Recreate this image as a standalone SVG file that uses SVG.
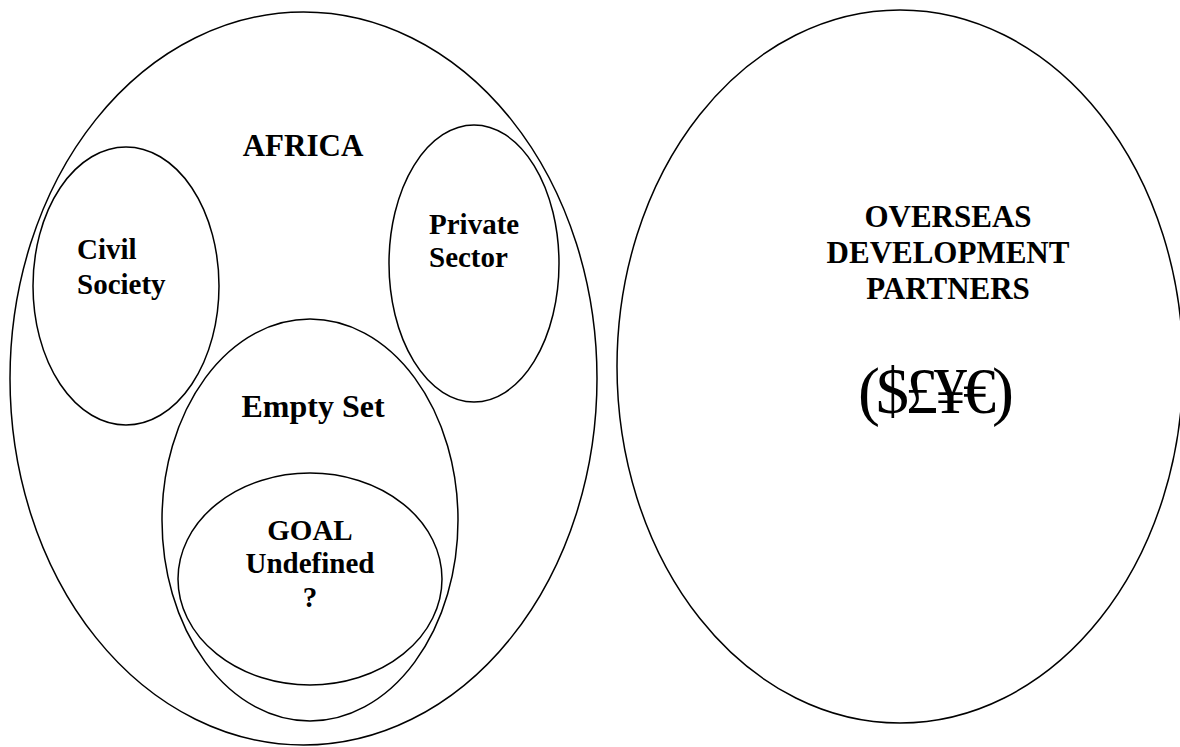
<svg xmlns="http://www.w3.org/2000/svg" width="1180" height="747" viewBox="0 0 1180 747">
  <style>
    .set { fill: none; stroke: #000; stroke-width: 1.5; }
    .lbl { font-family: "Liberation Serif", "Times New Roman", serif; font-weight: bold; fill: #000; }
    .cur { font-family: "Liberation Serif", "Times New Roman", serif; fill: #000; }
    .mid { text-anchor: middle; }
  </style>
  <rect width="1180" height="747" fill="#fff"/>

  <!-- Africa: outer set -->
  <g id="africa">
    <ellipse class="set" cx="303.5" cy="378.5" rx="293.5" ry="366.5"/>
    <text class="lbl mid" x="303" y="156" font-size="31">AFRICA</text>
  </g>

  <g id="civil-society">
    <ellipse class="set" cx="126" cy="286" rx="93" ry="139"/>
    <text class="lbl" x="77" y="259" font-size="29">Civil</text>
    <text class="lbl" x="77" y="294" font-size="29">Society</text>
  </g>

  <g id="private-sector">
    <ellipse class="set" cx="474" cy="263.5" rx="85" ry="138.5"/>
    <text class="lbl" x="429" y="234" font-size="29">Private</text>
    <text class="lbl" x="429" y="267" font-size="29">Sector</text>
  </g>

  <g id="empty-set">
    <ellipse class="set" cx="310" cy="520" rx="148" ry="201"/>
    <text class="lbl mid" x="313" y="417" font-size="32">Empty Set</text>
  </g>

  <g id="goal">
    <ellipse class="set" cx="310" cy="579" rx="132" ry="106"/>
    <text class="lbl mid" x="310" y="540" font-size="29">GOAL</text>
    <text class="lbl mid" x="310" y="573" font-size="29">Undefined</text>
    <text class="lbl mid" x="310" y="607" font-size="29">?</text>
  </g>

  <!-- Overseas partners: separate set -->
  <g id="overseas">
    <ellipse class="set" cx="900" cy="366.5" rx="283" ry="356.5"/>
    <text class="lbl mid" x="948" y="227" font-size="31">OVERSEAS</text>
    <text class="lbl mid" x="948" y="263" font-size="31">DEVELOPMENT</text>
    <text class="lbl mid" x="948" y="299" font-size="31">PARTNERS</text>
    <text class="cur" x="858" y="413" font-size="66" letter-spacing="-4">($£¥€)</text>
  </g>

  <g id="connectors"/>
</svg>
